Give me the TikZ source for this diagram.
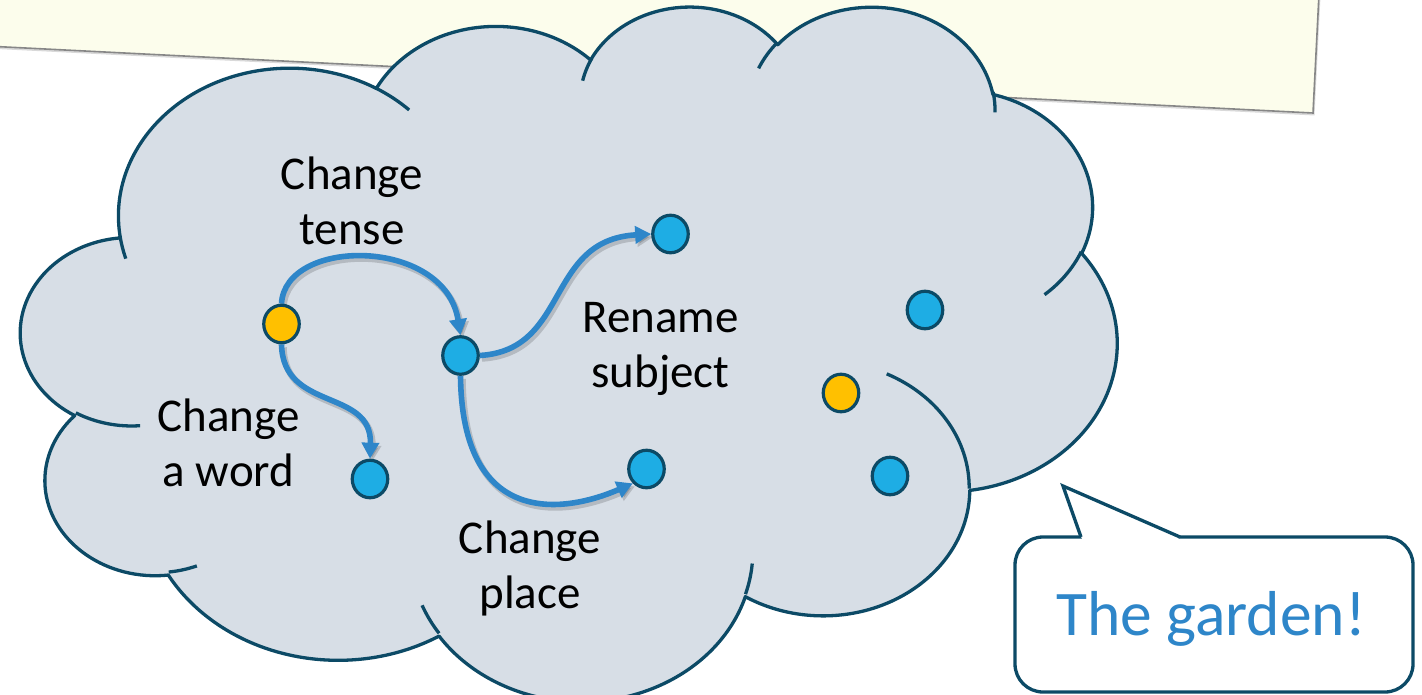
\documentclass[tikz,border=0pt]{standalone}
\usepackage{fontspec}
\setmainfont{Carlito}
\usetikzlibrary{arrows.meta,shapes.geometric}

\pgfdeclarelayer{under}
\pgfdeclarelayer{links}
\pgfsetlayers{under,links,main}

\definecolor{notefill}{RGB}{252,253,236}
\definecolor{noteedge}{RGB}{135,135,135}
\definecolor{cloudfill}{RGB}{215,222,230}
\definecolor{cloudedge}{RGB}{12,74,102}
\definecolor{flowblue}{RGB}{46,134,201}
\definecolor{dotblue}{RGB}{30,173,228}
\definecolor{dotgold}{RGB}{255,192,0}

% One elliptical lobe of the cloud: name, x radius, y radius,
% start angle and sweep (angles as seen on the ellipse, not parametric).
% Defines the style lobe<name>, which inserts the matching arc.
\newcommand\cloudlobe[5]{%
  \pgfmathsetmacro\lobeS{atan2((#2)*sin(#4),(#3)*cos(#4))}%
  \pgfmathsetmacro\lobeE{atan2((#2)*sin(#4+#5),(#3)*cos(#4+#5))}%
  \pgfmathsetmacro\lobeE{\lobeE<\lobeS ? \lobeE+360 : \lobeE}%
  \edef\lobetmp{\noexpand\tikzset{lobe#1/.style={insert path={arc[x radius=#2, y radius=#3, start angle=\lobeS, end angle=\lobeE]}}}}%
  \lobetmp
}

\tikzset{
  rim/.style={draw=cloudedge, line width=3.3pt},
  spot/.style={ellipse, draw=cloudedge, line width=3.2pt, inner sep=0pt,
               minimum width=35.5pt, minimum height=37.5pt},
  bluespot/.style={spot, fill=dotblue},
  goldspot/.style={spot, fill=dotgold},
  flowline/.style={line width=5.6pt, draw=flowblue, -{Triangle[length=16pt,width=17pt]},
    preaction={draw=black, opacity=.16, line width=6.5pt,
               transform canvas={xshift=2pt,yshift=-3pt}}},
  lbl/.style={font=\fontsize{47}{55}\selectfont, align=center, inner sep=0pt, text=black},
  speech/.style={draw=cloudedge, line width=3.3pt, fill=white, rounded corners=28pt, inner sep=0pt},
}

\begin{document}
\begin{tikzpicture}[x=1pt, y=-1pt]
\useasboundingbox (0,0) rectangle (1422,695);

\begin{pgfonlayer}{under}
  % tilted note sheet behind the cloud
  \fill[black, opacity=.15, shift={(1.5,2.5)}]
    (-50,-20) -- (1319.7,-20) -- (1313,113) -- (-50,44.2) -- cycle;
  \draw[fill=notefill, draw=noteedge, line width=1.6pt]
    (-50,-20) -- (1319.7,-20) -- (1313,113) -- (-50,44.2) -- cycle;

  % the cloud, built from eleven elliptical lobes
  \begin{scope}[xshift=21.1pt, yshift=-4.8pt, x=0.25363pt, y=-0.16078pt]
    \cloudlobe{A}{675.3}{919.0}{-190.4875}{123.7805}
    \cloudlobe{B}{533.3}{726.7}{-144.1024}{89.9452}
    \cloudlobe{C}{436.5}{594.5}{-145.8079}{99.7230}
    \cloudlobe{D}{485.7}{659.5}{-130.9861}{117.2417}
    \cloudlobe{E}{533.3}{727.3}{-78.7089}{109.0269}
    \cloudlobe{F}{677.5}{922.0}{-46.2673}{130.2690}
    \cloudlobe{G}{578.5}{786.7}{0.6250}{114.0333}
    \cloudlobe{H}{675.2}{921.5}{22.4516}{115.1726}
    \cloudlobe{I}{772.0}{1054.3}{66.2426}{75.7110}
    \cloudlobe{J}{436.0}{591.8}{-274.9421}{146.7356}
    \cloudlobe{K}{434.5}{594.5}{-246.8285}{152.5189}
    % inner ends of the lobes
    \cloudlobe{tA}{434.5}{594.5}{86.7420}{26.4295}
    \cloudlobe{tB}{436.0}{591.8}{73.6105}{11.4475}
    \cloudlobe{tC}{675.2}{921.5}{137.6242}{14.0811}
    \cloudlobe{tD}{675.2}{921.5}{6.4533}{15.9984}
    \cloudlobe{tE}{578.5}{786.7}{-70.2924}{70.9174}
    \cloudlobe{tF}{533.3}{727.3}{30.3180}{27.7515}
    \cloudlobe{tG}{485.7}{659.5}{-13.7443}{14.8589}
    \cloudlobe{tH}{485.7}{659.5}{-149.1815}{18.1954}
    \cloudlobe{tI}{436.5}{594.5}{-163.4943}{17.6864}
    \cloudlobe{tJ}{675.3}{919.0}{-66.7070}{12.3194}
    \cloudlobe{tK}{675.3}{919.0}{157.6544}{11.8582}

    \path[rim, fill=cloudfill, line join=round]
      (390,1437) [lobeA] [lobeB] [lobeC] [lobeD] [lobeE] [lobeF]
                 [lobeG] [lobeH] [lobeI] [lobeJ] [lobeK] -- cycle;

    \draw[rim] (469.3,2617.7) [lobetA];
    \draw[rim] (692.8,3489.9) [lobetB];
    \draw[rim] (1647.8,3909.0) [lobetC];
    \draw[rim] (2882.7,3475.1) [lobetD];
    \draw[rim] (3412.9,2295.4) [lobetE];
    \draw[rim] (4179.8,1535.4) [lobetF];
    \draw[rim] (3832.4,542.6) [lobetG];
    \draw[rim] (2907.8,395.2) [lobetH];
    \draw[rim] (2214.1,472.0) [lobetI];
    \draw[rim] (1400.0,519.2) [lobetJ];
    \draw[rim] (412.7,1578.9) [lobetK];
  \end{scope}
\end{pgfonlayer}

% states
\node[goldspot] (y1) at (281.5,324) {};
\node[bluespot] (a)  at (460.5,355.5) {};
\node[bluespot] (b)  at (670.5,234) {};
\node[bluespot] (c)  at (646.5,469) {};
\node[bluespot] (d)  at (370,479) {};
\node[bluespot] (e)  at (925,310) {};
\node[goldspot] (y2) at (841,393) {};
\node[bluespot] (f)  at (890,476) {};

% labels of the moves
\node[lbl] (tense)   at (352,206)   {Change\strut\\tense\strut};
\node[lbl] (subject) at (660.5,348.5) {Rename\strut\\subject\strut};
\node[lbl] (word)    at (228.5,447.5) {Change\strut\\a word\strut};
\node[lbl] (place)   at (530,569.5) {Change\strut\\place\strut};

% moves between states
\begin{pgfonlayer}{links}
  \draw[flowline] (y1.north) .. controls (285,237) and (445,237) .. (a.north);
  \draw[flowline] (y1.south) .. controls (283,412) and (372,388) .. (d.north);
  \draw[flowline] (a.east) .. controls (570,350) and (545,240) .. (b.west);
  \draw[flowline] (a.south) .. controls (462,525) and (560,515) .. (c.south west);
\end{pgfonlayer}

% speech bubble
\node[speech, minimum width=398pt, minimum height=155pt] (box) at (1214,614.5) {};
\coordinate (tip) at (1063,486);
\fill[white] (1083,540) -- (1081,537) -- (tip) -- (1180,537) -- (1177,540) -- cycle;
\draw[rim, line join=miter] (1081,537) -- (tip) -- (1180,537);
\node[anchor=base, inner sep=0pt, text=flowblue, font=\fontsize{63.5}{70}\selectfont]
  (garden) at (1211,635) {The garden!};
\end{tikzpicture}
\end{document}
